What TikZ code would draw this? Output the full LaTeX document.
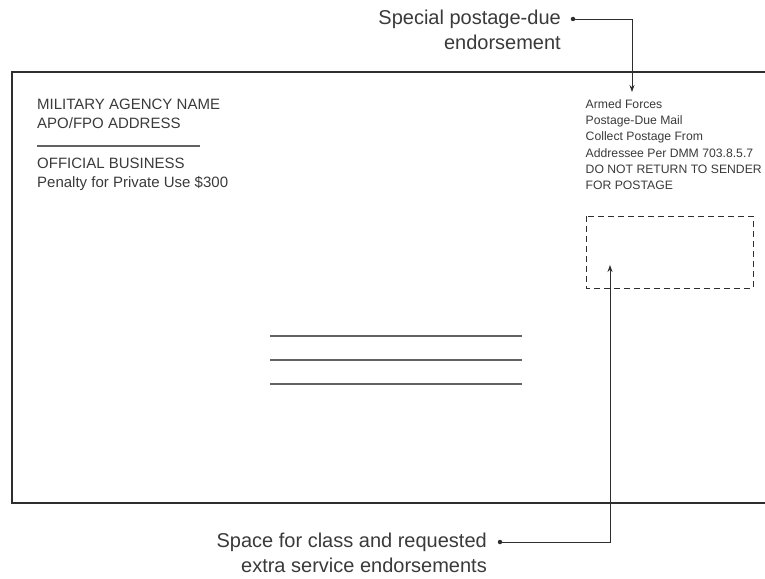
\documentclass[tikz,border=0pt]{standalone}
\usepackage{fontspec}
\setmainfont{Liberation Sans}
\usetikzlibrary{arrows.meta}
\definecolor{ink}{HTML}{2E2E2E}
\definecolor{txt}{HTML}{3A3A3A}
\begin{document}
\begin{tikzpicture}[x=1pt,y=-1pt,
  env/.style={line width=1.7pt,draw=ink},
  rule/.style={line width=1.1pt,draw=ink!75},
  dashbox/.style={line width=0.9pt,draw=ink,dash pattern=on 6pt off 4pt},
  callout/.style={font=\fontsize{20}{25}\selectfont, align=right, text=txt, inner sep=0pt, anchor=east},
  small/.style={font=\fontsize{12.2}{16.2}\selectfont, align=left, text=txt, inner sep=0pt, anchor=north west},
  ret/.style={font=\fontsize{15}{19}\selectfont, align=left, text=txt, inner sep=0pt, anchor=north west},
  lead/.style={line width=0.9pt, draw=ink, -{Stealth[length=7pt,width=5pt]}},
  dotst/.style={circle, fill=ink, inner sep=0pt, minimum size=4.5pt}
]
\useasboundingbox (0,0) rectangle (765,578);
% envelope outline (open on the right)
\draw[env] (765,72) -- (12,72) -- (12,503) -- (765,503);
% return address
\node[ret] (ra1) at (37,99) {MILITARY AGENCY NAME\\APO/FPO ADDRESS};
\draw[rule] (37,146) -- (200,146);
\node[ret] (ra2) at (37,157.5) {OFFICIAL BUSINESS\\Penalty for Private Use \$300};
% endorsement block
\node[small] (endo) at (585.5,99.5) {Armed Forces\\Postage-Due Mail\\Collect Postage From\\Addressee Per DMM 703.8.5.7\\DO NOT RETURN TO SENDER\\FOR POSTAGE};
% dashed space box
\draw[dashbox] (586,216) rectangle (753,288);
% delivery address lines
\draw[rule] (270,336) -- (522,336);
\draw[rule] (270,360) -- (522,360);
\draw[rule] (270,384) -- (522,384);
% callouts
\node[callout] (toplab) at (561,30) {Special postage-due\\endorsement};
\node[dotst] (d1) at (573,19) {};
\coordinate (t1) at (632,92);
\draw[lead] (d1.center) -| (t1);
\node[callout] (botlab) at (487,553) {Space for class and requested\\extra service endorsements};
\node[dotst] (d2) at (500,542) {};
\coordinate (t2) at (610,265);
\draw[lead] (d2.center) -| (t2);
\end{tikzpicture}
\end{document}
